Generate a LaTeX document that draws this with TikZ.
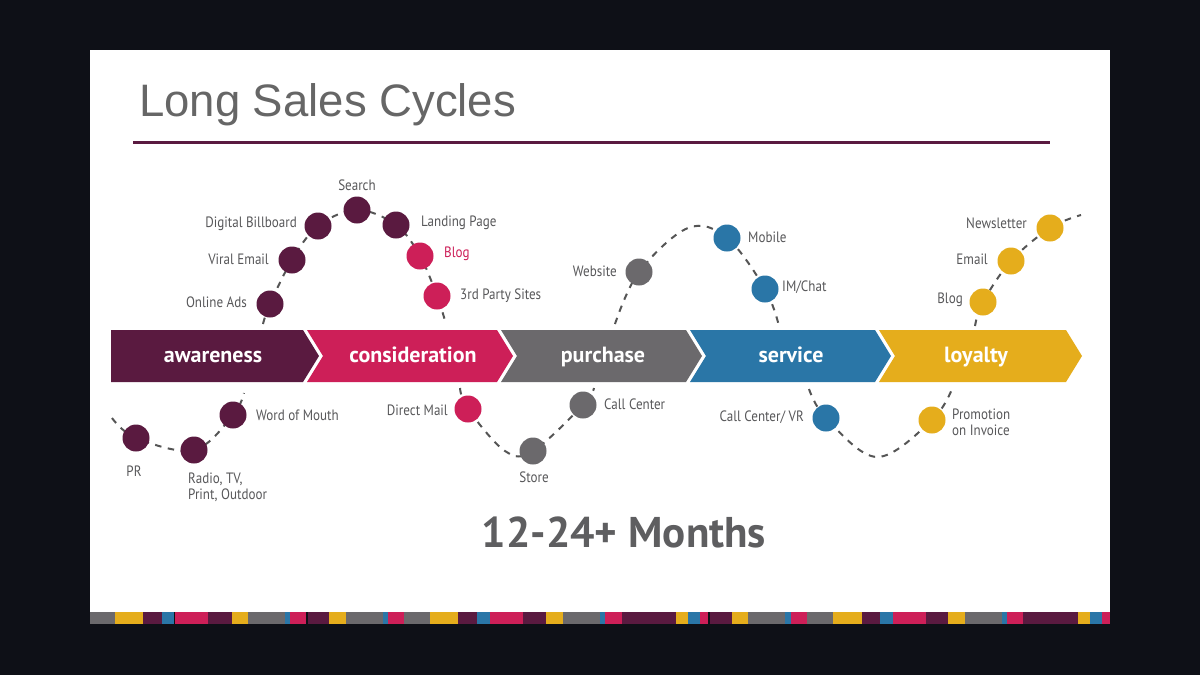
\documentclass[tikz,border=0pt]{standalone}
\usepackage{fontspec}
\setmainfont{PT Sans}
\newfontfamily\titlefont{Liberation Sans}
\newfontfamily\labfont[FakeStretch=0.87]{PT Sans}
\usetikzlibrary{calc}
\definecolor{darkbg}{HTML}{0E1017}
\definecolor{plum}{HTML}{5A1A40}
\definecolor{crimson}{HTML}{CD1F58}
\definecolor{stgray}{HTML}{6B696C}
\definecolor{stblue}{HTML}{2A76A7}
\definecolor{styellow}{HTML}{E5AD1C}
\definecolor{labgray}{HTML}{58585A}
\definecolor{titlegray}{HTML}{666666}
\definecolor{numgray}{HTML}{5E5E60}
\definecolor{dashgray}{HTML}{555555}
\pgfdeclarelayer{bg}
\pgfdeclarelayer{curves}
\pgfsetlayers{bg,curves,main}
\tikzset{
  dot/.style={circle, fill=#1, minimum size=27pt, inner sep=0pt},
  lab/.style={font=\labfont\fontsize{15}{16}\selectfont, text=labgray, inner sep=0pt},
  stage/.style={font=\bfseries\fontsize{22}{24}\selectfont, text=white, inner sep=0pt, anchor=base},
  path dash/.style={draw=dashgray, line width=2pt, dash pattern=on 6.5pt off 6.5pt, smooth, tension=0.6},
}
\begin{document}
\begin{tikzpicture}[x=1pt,y=-1pt]
\useasboundingbox (0,0) rectangle (1200,675);
\begin{pgfonlayer}{bg}
\fill[darkbg] (0,0) rectangle (1200,675);
\fill[white] (90,50) rectangle (1110,612);
\foreach \a/\b/\c in {90/115/stgray,115/143/styellow,143/162/plum,162/174/stblue,175/208/crimson,208/232/plum,232/248/styellow,248/285/stgray,285/290/stblue,290/306/crimson,308/329/plum,329/346/styellow,346/383/stgray,383/388/stblue,388/404/crimson,404/430/stgray,430/458/styellow,458/477/plum,477/490/stblue,490/523/crimson,523/546/plum,546/563/styellow,563/600/stgray,600/605/stblue,605/622/crimson,622/676/plum,676/688/styellow,688/700/stblue,700/708/crimson,710/732/plum,732/748/styellow,748/785/stgray,785/791/stblue,791/807/crimson,807/833/stgray,833/862/styellow,862/880/plum,880/893/stblue,893/926/crimson,926/948/plum,948/965/styellow,965/1002/stgray,1002/1007/stblue,1007/1023/crimson,1023/1078/plum,1078/1090/styellow,1090/1102/stblue,1102/1110/crimson}
  \fill[\c] (\a,612) rectangle (\b,624);
\end{pgfonlayer}

% title
\node[anchor=base west, font=\titlefont\fontsize{45.5}{50}\selectfont, text=titlegray, inner sep=0pt] (title) at (139,116) {Long Sales Cycles};
\draw[plum, line width=3pt] (133,142) -- (1050,142);

% chevrons
\fill[plum] (111,330) -- (303,330) -- (319,356) -- (303,382) -- (111,382) -- cycle;
\fill[crimson] (307,330) -- (497,330) -- (513,356) -- (497,382) -- (307,382) -- (323,356) -- cycle;
\fill[stgray] (501,330) -- (686,330) -- (702,356) -- (686,382) -- (501,382) -- (517,356) -- cycle;
\fill[stblue] (690,330) -- (875,330) -- (891,356) -- (875,382) -- (690,382) -- (706,356) -- cycle;
\fill[styellow] (879,330) -- (1066,330) -- (1082,356) -- (1066,382) -- (879,382) -- (895,356) -- cycle;
\node[stage] (aw) at (213,362) {awareness};
\node[stage] (co) at (413,362) {consideration};
\node[stage] (pu) at (603,362) {purchase};
\node[stage] (se) at (791,362) {service};
\node[stage] (lo) at (976,362) {loyalty};

% circles
\node[dot=plum] (onlineads) at (270,304) {};
\node[dot=plum] (viral) at (292,260) {};
\node[dot=plum] (billboard) at (318,226) {};
\node[dot=plum] (search) at (357,210) {};
\node[dot=plum] (landing) at (396,225) {};
\node[dot=crimson] (blog1) at (420,256) {};
\node[dot=crimson] (third) at (437,296) {};
\node[dot=stgray] (website) at (639,272) {};
\node[dot=stblue] (mobile) at (727,238) {};
\node[dot=stblue] (imchat) at (765,289) {};
\node[dot=styellow] (blog2) at (983,302) {};
\node[dot=styellow] (email) at (1011,261) {};
\node[dot=styellow] (newsletter) at (1050,228) {};
\node[dot=plum] (pr) at (136,438) {};
\node[dot=plum] (radio) at (194,450) {};
\node[dot=plum] (wom) at (233,415) {};
\node[dot=crimson] (directmail) at (468,409) {};
\node[dot=stgray] (store) at (533,451) {};
\node[dot=stgray] (callcenter) at (583,405) {};
\node[dot=stblue] (vr) at (826,418) {};
\node[dot=styellow] (promo) at (932,420) {};

% free ends
\coordinate (a0) at (263,324);
\coordinate (a1) at (446,324);
\coordinate (b0) at (112,418);
\coordinate (b1) at (244,393);
\coordinate (c0) at (460,388);
\coordinate (ct) at (505,451);
\coordinate (c1) at (594,388);
\coordinate (d0) at (615,324);
\coordinate (dp) at (688,228);
\coordinate (d1) at (779,326);
\coordinate (e0) at (809,389);
\coordinate (et) at (877,457);
\coordinate (e1) at (952,389);
\coordinate (f0) at (975,326);
\coordinate (f1) at (1081,215);

\begin{pgfonlayer}{curves}
\draw[path dash] plot coordinates {(a0) (onlineads) (viral) (billboard) (search) (landing) (blog1) (third) (a1)};
\draw[path dash] plot coordinates {(b0) (pr) (radio) (wom) (b1)};
\draw[path dash] plot coordinates {(c0) (directmail) (ct) (store) (callcenter) (c1)};
\draw[path dash] plot coordinates {(d0) (website) (dp) (mobile) (imchat) (d1)};
\draw[path dash] plot coordinates {(e0) (vr) (et) (promo) (e1)};
\draw[path dash] plot coordinates {(f0) (blog2) (email) (newsletter) (f1)};
\end{pgfonlayer}

% labels
\node[lab] (lsearch) at (357,185) {Search};
\node[lab, anchor=east] (lbill) at (297,224) {Digital Billboard};
\node[lab, anchor=east] (lviral) at (269,259) {Viral Email};
\node[lab, anchor=east] (lonline) at (247,302) {Online Ads};
\node[lab, anchor=west] (lland) at (421,223) {Landing Page};
\node[lab, anchor=west, text=crimson] (lblog1) at (444,254) {Blog};
\node[lab, anchor=west] (lthird) at (460,296) {3rd Party Sites};
\node[lab, anchor=east] (lweb) at (617,271) {Website};
\node[lab, anchor=west] (lmob) at (748,237) {Mobile};
\node[lab, anchor=west] (lim) at (782,287) {IM/Chat};
\node[lab, anchor=east] (lnews) at (1027,223) {Newsletter};
\node[lab, anchor=east] (lemail) at (988,259) {Email};
\node[lab, anchor=east] (lblog2) at (963,300) {Blog};
\node[lab] (lpr) at (134,471) {PR};
\node[lab, anchor=north west, align=left] (lradio) at (188,473) {Radio, TV,\\Print, Outdoor};
\node[lab, anchor=west] (lwom) at (256,415) {Word of Mouth};
\node[lab, anchor=east] (ldm) at (448,410) {Direct Mail};
\node[lab] (lstore) at (534,477) {Store};
\node[lab, anchor=west] (lcc) at (604,404) {Call Center};
\node[lab, anchor=east] (lvr) at (804,417) {Call Center/ VR};
\node[lab, anchor=north west, align=left] (lpromo) at (952,409) {Promotion\\on Invoice};

\node[font=\bfseries\fontsize{43}{46}\selectfont, text=numgray, inner sep=0pt] (months) at (624,532) {12-24+ Months};
\end{tikzpicture}
\end{document}
